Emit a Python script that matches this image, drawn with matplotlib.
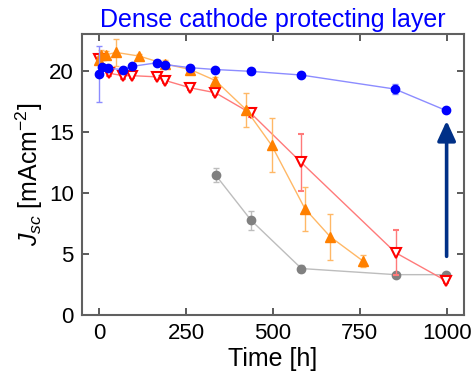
import matplotlib
matplotlib.use("Agg")
import matplotlib.pyplot as plt

plt.rcParams["font.family"] = ["Liberation Sans", "DejaVu Sans"]
plt.rcParams["mathtext.fontset"] = "custom"
plt.rcParams["mathtext.rm"] = "Liberation Sans"
plt.rcParams["mathtext.it"] = "Liberation Sans:italic"

# ── data ─────────────────────────────────────────────────────────────────────

blue_t   = [0, 9, 24, 67, 93, 165, 190, 262, 334, 437, 581, 851, 998]
blue_j   = [19.75, 20.3, 20.2, 20.1, 20.35, 20.65, 20.5, 20.25, 20.1, 19.95, 19.65, 18.5, 16.75]
blue_err = [2.3, 0.2, 0.2, 0.2, 0.2, 0.2, 0.2, 0.2, 0.15, 0.15, 0.15, 0.4, 0.15]

orange_t   = [0, 5, 19, 48, 115, 190, 262, 334, 423, 496, 592, 665, 760]
orange_j   = [20.9, 21.3, 21.3, 21.5, 21.2, 20.55, 20.1, 19.2, 16.8, 13.9, 8.7, 6.4, 4.4]
orange_err = [0.3, 0.4, 0.3, 1.1, 0.2, 0.3, 0.3, 0.3, 1.4, 2.2, 1.8, 1.9, 0.5]

red_t   = [0, 27, 67, 93, 165, 190, 262, 334, 437, 581, 853, 998]
red_j   = [21.0, 19.8, 19.6, 19.6, 19.5, 19.2, 18.6, 18.2, 16.5, 12.5, 5.1, 2.8]
red_err = [0.4, 0.2, 0.3, 0.2, 0.2, 0.2, 0.2, 0.2, 0.3, 2.35, 1.85, 0.2]

gray_t   = [335, 437, 582, 853, 998]
gray_j   = [11.45, 7.75, 3.8, 3.3, 3.3]
gray_err = [0.6, 0.8, 0.3, 0.1, 0.1]

arrow_t = 1000
arrow_from = 4.8
arrow_to = 15.9

# ── figure ───────────────────────────────────────────────────────────────────

fig = plt.figure(figsize=(4.72, 3.79), dpi=100)
ax = fig.add_axes([0.1737, 0.169, 0.8093, 0.741])

def series(t, j, err, line, mark, fmt, **kw):
    ax.errorbar(t, j, yerr=err, color=line, ecolor=line, elinewidth=1.0,
                capsize=2.5, capthick=1.0, linewidth=1.0, fmt=fmt,
                markeredgecolor=mark, **kw)

series(gray_t, gray_j, gray_err, "#BDBDBD", "#808080", "-o",
       markerfacecolor="#808080", markersize=6, zorder=2)
series(red_t, red_j, red_err, "#FF7A7A", "#FF0000", "-v",
       markerfacecolor="white", markersize=7, markeredgewidth=1.5, zorder=3)
series(orange_t, orange_j, orange_err, "#FFB866", "#FF8000", "-^",
       markerfacecolor="#FF8000", markersize=7, zorder=4)
series(blue_t, blue_j, blue_err, "#8C8CFF", "#0000FF", "-o",
       markerfacecolor="#0000FF", markersize=6, zorder=5)

ax.annotate("", xy=(arrow_t, arrow_to), xytext=(arrow_t, arrow_from),
            arrowprops=dict(arrowstyle="-|>,head_length=1.2,head_width=0.55",
                            color="#003087", linewidth=2.6, shrinkA=0, shrinkB=0),
            zorder=6)

ax.set_xlim(-50, 1050)
ax.set_ylim(0, 23)
ax.set_xticks([0, 250, 500, 750, 1000])
ax.set_yticks([0, 5, 10, 15, 20])
ax.tick_params(direction="in", top=True, right=True, labelsize=16,
               length=5, width=1.2, color="#404040", pad=6)
for spine in ax.spines.values():
    spine.set_edgecolor("#606060")
    spine.set_linewidth(1.5)

ax.set_xlabel("Time [h]", fontsize=18, labelpad=2)
ax.set_ylabel(r"$J_{sc}$ [mAcm$^{-2}$]", fontsize=18, labelpad=3)
ax.set_title("Dense cathode protecting layer", color="#0000FF", fontsize=18, pad=5)

fig.savefig("out.png", dpi=100)
